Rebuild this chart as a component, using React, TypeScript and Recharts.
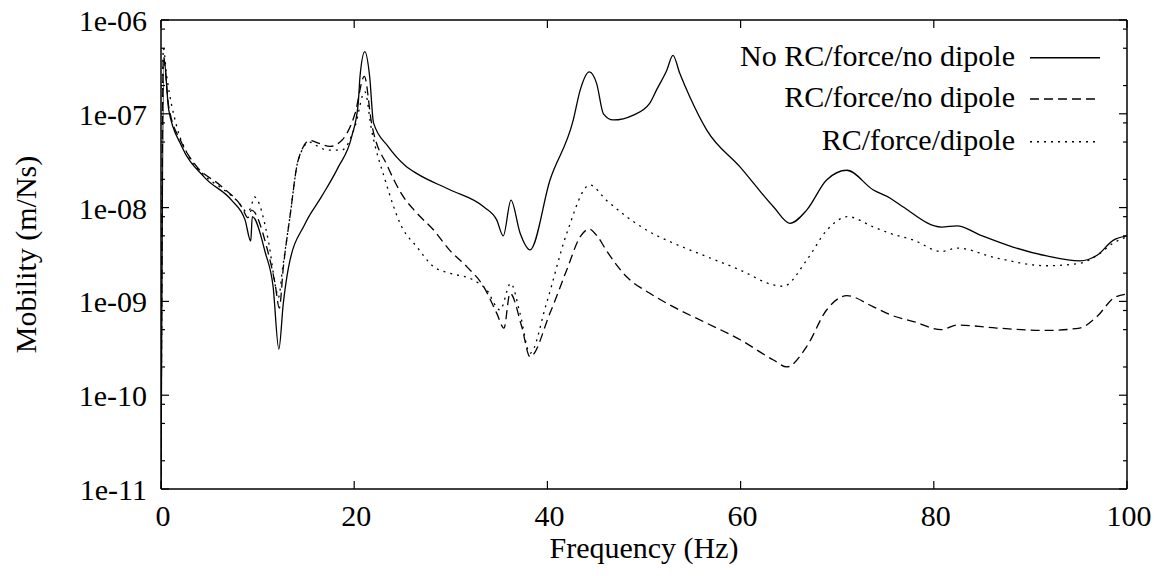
import React from 'react';
import { LineChart, Line, XAxis, YAxis, ReferenceLine } from 'recharts';

// ---------- data ----------
const seriesNames = ['No RC/force/no dipole', 'RC/force/no dipole', 'RC/force/dipole'];

const noRcFreq = [0, 0.3, 0.8, 2.1, 4.5, 7.3, 8.7, 9.29, 9.45, 10.8, 11.6, 12.2, 12.66, 13.2, 14.9, 16.6, 18.35, 19.74, 20.42, 20.6, 21.1, 21.6, 22.0, 23.5, 25.3, 26.5, 29.9, 33.4, 34.75, 35.43, 36.23, 37.16, 38.2, 40.27, 42.68, 43.4, 44.34, 45.1, 45.8, 46.8, 48.9, 50.6, 51.3, 52.35, 53.0, 53.7, 54.76, 56.5, 59.96, 63.4, 65.1, 66.84, 68.9, 71.0, 73.7, 75.5, 76.8, 80.8, 82.4, 84.8, 88.2, 91.7, 95.1, 96.9, 98.6, 100];
const noRcMobility = [1e-11, 3.9e-7, 1.1e-7, 4.6e-8, 2.1e-8, 1.2e-8, 7.4e-9, 4.4e-9, 8e-9, 3.3e-9, 1.45e-9, 3.1e-10, 9.5e-10, 2.3e-9, 6.7e-9, 1.3e-8, 2.7e-8, 5.7e-8, 1.3e-7, 2.5e-7, 4.6e-7, 2.5e-7, 8.0e-8, 4.5e-8, 2.8e-8, 2.3e-8, 1.55e-8, 1.02e-8, 7.4e-9, 5.0e-9, 1.2e-8, 5.4e-9, 3.55e-9, 1.97e-8, 8.6e-8, 1.8e-7, 2.8e-7, 2.1e-7, 1.0e-7, 8.6e-8, 9.7e-8, 1.3e-7, 1.8e-7, 2.9e-7, 4.2e-7, 2.7e-7, 1.5e-7, 6.7e-8, 2.7e-8, 1.02e-8, 6.8e-9, 9.4e-9, 1.97e-8, 2.5e-8, 1.55e-8, 1.26e-8, 1.02e-8, 6.2e-9, 6.4e-9, 5.1e-9, 3.8e-9, 3.05e-9, 2.7e-9, 3.1e-9, 4.5e-9, 5.0e-9];

const rcNoDipoleFreq = [0, 0.24, 0.8, 2.1, 3.5, 6.3, 8.35, 9.0, 9.37, 10.94, 11.8, 12.25, 12.66, 13.35, 14.2, 15.4, 16.46, 17.5, 18.7, 20.08, 21.05, 21.8, 23.5, 24.9, 26.5, 28.2, 29.9, 31.65, 33.4, 34.75, 35.5, 36.13, 37.34, 38.2, 40.27, 42.0, 43.4, 44.34, 45.2, 46.1, 48.2, 50.6, 53.0, 56.5, 59.96, 63.4, 64.8, 66.84, 68.9, 71.0, 73.7, 75.5, 77.9, 80.8, 82.4, 86.5, 91.7, 95.1, 96.9, 98.6, 100];
const rcNoDipoleMobility = [1e-11, 4.1e-7, 1.2e-7, 5.0e-8, 2.9e-8, 1.67e-8, 1.02e-8, 7.8e-9, 9.4e-9, 3.8e-9, 1.56e-9, 8.5e-10, 2.3e-9, 8e-9, 3.2e-8, 5.2e-8, 4.8e-8, 4.5e-8, 5.2e-8, 1.0e-7, 2.5e-7, 7.9e-8, 2.7e-8, 1.4e-8, 8.7e-9, 5.8e-9, 3.5e-9, 2.35e-9, 1.44e-9, 7.5e-10, 5.2e-10, 1.22e-9, 5.4e-10, 2.57e-10, 7.5e-10, 2.16e-9, 4.9e-9, 5.9e-9, 4.9e-9, 3.5e-9, 1.83e-9, 1.22e-9, 8.8e-10, 5.85e-10, 3.9e-10, 2.37e-10, 2.0e-10, 3.3e-10, 8.1e-10, 1.15e-9, 8.8e-10, 7.2e-10, 6.1e-10, 5.0e-10, 5.6e-10, 5.2e-10, 4.9e-10, 5.2e-10, 6.9e-10, 1.08e-9, 1.2e-9];

const rcDipoleFreq = [0, 0.24, 0.6, 1.6, 2.7, 4.5, 6.5, 8.0, 8.9, 9.3, 9.66, 11.1, 12.0, 12.15, 12.6, 13.35, 14.2, 15.4, 15.9, 17.3, 18.7, 20.08, 21.1, 21.8, 23.2, 24.9, 26.5, 28.2, 29.9, 32.3, 33.7, 35.1, 36.2, 37.16, 38.2, 39.9, 42.0, 44.4, 46.1, 48.2, 50.6, 53.0, 56.5, 59.96, 63.4, 64.4, 66.84, 68.9, 71.1, 73.7, 75.5, 77.9, 80.8, 82.4, 86.5, 91.7, 95.1, 96.9, 98.6, 100];
const rcDipoleMobility = [1e-11, 5.0e-7, 2.5e-7, 7.5e-8, 3.8e-8, 2.2e-8, 1.55e-8, 1.15e-8, 9e-9, 1.0e-8, 1.3e-8, 4.5e-9, 1.23e-9, 1.1e-9, 2.3e-9, 8e-9, 3.2e-8, 5.0e-8, 4.7e-8, 4.1e-8, 4.1e-8, 7.3e-8, 1.72e-7, 6.7e-8, 1.97e-8, 6.3e-9, 3.8e-9, 2.35e-9, 2.0e-9, 1.7e-9, 1.33e-9, 8.1e-10, 1.56e-9, 7.5e-10, 2.8e-10, 9.5e-10, 5.3e-9, 1.74e-8, 1.2e-8, 8e-9, 5.5e-9, 4.2e-9, 3.0e-9, 2.16e-9, 1.5e-9, 1.45e-9, 2.75e-9, 5.7e-9, 8e-9, 6.25e-9, 5.3e-9, 4.5e-9, 3.4e-9, 3.7e-9, 2.9e-9, 2.4e-9, 2.55e-9, 3.1e-9, 4.2e-9, 4.9e-9];

const xTicks = [0, 20, 40, 60, 80, 100];
const xTickLabels = ['0', '20', '40', '60', '80', '100'];
const yMajorExponents = [-11, -10, -9, -8, -7, -6];
const yTickLabels = ['1e-11', '1e-10', '1e-09', '1e-08', '1e-07', '1e-06'];
const yMinorMultipliers = [2, 5, 8];

const xLabel = 'Frequency (Hz)';
const yLabel = 'Mobility (m/Ns)';

// ---------- derived ----------
const toPoints = (f: number[], v: number[]) => f.map((x, i) => ({ f: x, v: v[i] }));
const noRcData = toPoints(noRcFreq, noRcMobility);
const rcNoDipoleData = toPoints(rcNoDipoleFreq, rcNoDipoleMobility);
const rcDipoleData = toPoints(rcDipoleFreq, rcDipoleMobility);

const yTicks: number[] = [];
yMajorExponents.forEach((e, i) => {
  yTicks.push(Math.pow(10, e));
  if (i < yMajorExponents.length - 1) {
    yMinorMultipliers.forEach((m) => yTicks.push(Number((m * Math.pow(10, e)).toPrecision(3))));
  }
});

// ---------- layout ----------
const CHART_W = 1151;
const CHART_H = 560;
const PLOT_LEFT = 153;
const PLOT_TOP = 12;
const PLOT_W = 966;
const PLOT_H = 469;
const FS = 30;
const FF = 'Liberation Serif';

const dashes = [undefined as string | undefined, '9 5', '2 5'];

function YTick(props: any) {
  const { x, y, payload } = props;
  const v = payload.value;
  const lg = Math.log10(v);
  const major = Math.abs(lg - Math.round(lg)) < 1e-6;
  const len = major ? 8 : 4;
  const idx = yMajorExponents.indexOf(Math.round(lg));
  return (
    <g>
      <line x1={x} x2={x + len} y1={y} y2={y} stroke="#000" strokeWidth={1.2} />
      <line x1={x + PLOT_W} x2={x + PLOT_W - len} y1={y} y2={y} stroke="#000" strokeWidth={1.2} />
      {major && idx >= 0 ? (
        <text x={x - 14} y={y + 11} textAnchor="end" fontFamily={FF} fontSize={FS} fill="#000">
          {yTickLabels[idx]}
        </text>
      ) : null}
    </g>
  );
}

function XTick(props: any) {
  const { x, y, payload } = props;
  const idx = xTicks.indexOf(payload.value);
  return (
    <g>
      <line x1={x} x2={x} y1={y} y2={y - 8} stroke="#000" strokeWidth={1.2} />
      <line x1={x} x2={x} y1={y - PLOT_H} y2={y - PLOT_H + 8} stroke="#000" strokeWidth={1.2} />
      <text x={x + 2} y={y + 37} textAnchor="middle" fontFamily={FF} fontSize={FS} fill="#000">
        {idx >= 0 ? xTickLabels[idx] : ''}
      </text>
    </g>
  );
}

export default function App() {
  const datasets = [noRcData, rcNoDipoleData, rcDipoleData];
  const rows = [49.7, 91, 133.7];
  const yLabX = 17.5;
  const yLabY = PLOT_TOP + PLOT_H / 2;
  return (
    <div style={{ width: CHART_W, height: CHART_H, background: '#fff' }}>
      <LineChart
        width={CHART_W}
        height={CHART_H}
        margin={{ top: PLOT_TOP, right: CHART_W - PLOT_LEFT - PLOT_W, bottom: CHART_H - PLOT_TOP - PLOT_H - 40, left: 0 }}
      >
        <XAxis
          type="number"
          dataKey="f"
          domain={[0, 100]}
          ticks={xTicks}
          interval={0}
          allowDataOverflow
          height={40}
          tickSize={0}
          tickMargin={0}
          tickLine={false}
          tick={XTick}
          axisLine={{ stroke: '#000', strokeWidth: 1.5 }}
        />
        <YAxis
          type="number"
          scale="log"
          domain={[1e-11, 1e-6]}
          ticks={yTicks}
          interval={0}
          allowDataOverflow
          width={PLOT_LEFT}
          tickSize={0}
          tickMargin={0}
          tickLine={false}
          tick={YTick}
          axisLine={{ stroke: '#000', strokeWidth: 1.5 }}
        />
        <ReferenceLine y={1e-6} stroke="#000" strokeWidth={1.5} ifOverflow="visible" />
        <ReferenceLine x={100} stroke="#000" strokeWidth={1.5} ifOverflow="visible" />
        {datasets.map((d, i) => (
          <Line
            key={seriesNames[i]}
            data={d}
            dataKey="v"
            name={seriesNames[i]}
            type="monotone"
            stroke="#000"
            strokeWidth={1.3}
            strokeDasharray={dashes[i]}
            dot={false}
            activeDot={false}
            isAnimationActive={false}
          />
        ))}
        <text
          x={PLOT_LEFT + PLOT_W / 2}
          y={PLOT_TOP + PLOT_H + 69}
          textAnchor="middle"
          fontFamily={FF}
          fontSize={FS}
          fill="#000"
        >
          {xLabel}
        </text>
        <text
          x={yLabX}
          y={yLabY}
          dy="0.35em"
          transform={`rotate(-90 ${yLabX} ${yLabY})`}
          textAnchor="middle"
          fontFamily={FF}
          fontSize={FS}
          fill="#000"
        >
          {yLabel}
        </text>
        {seriesNames.map((name, i) => (
          <g key={name}>
            <text x={1007} y={rows[i] + 8} textAnchor="end" fontFamily={FF} fontSize={FS} fill="#000">
              {name}
            </text>
            <line x1={1022} x2={1092} y1={rows[i]} y2={rows[i]} stroke="#000" strokeWidth={1.4} strokeDasharray={dashes[i]} />
          </g>
        ))}
      </LineChart>
    </div>
  );
}
